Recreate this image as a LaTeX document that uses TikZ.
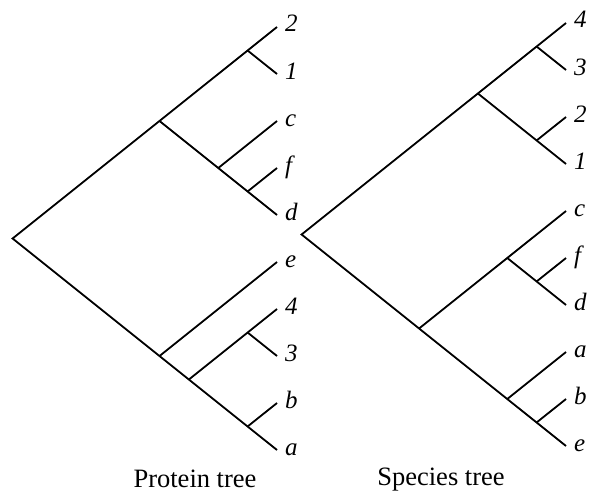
\documentclass[tikz,border=0pt]{standalone}
\usepackage{fontspec}
\setmainfont{Liberation Serif}
\begin{document}
\begin{tikzpicture}[x=1pt,y=-1pt,
  branch/.style={line width=1.8pt},
  leaflabel/.style={anchor=base west,inner sep=0pt,font=\fontsize{25}{28}\selectfont\itshape},
  caption/.style={anchor=base,inner sep=0pt,font=\fontsize{26.5}{30}\selectfont}]
\useasboundingbox (0,0) rectangle (597,495);
% ---------- Protein tree ----------
\coordinate (P2) at (277,27);
\coordinate (P1) at (277,74);
\coordinate (Pc) at (277,121);
\coordinate (Pf) at (277,168);
\coordinate (Pd) at (277,215);
\coordinate (Pe) at (277,262);
\coordinate (P4) at (277,309);
\coordinate (P3) at (277,356);
\coordinate (Pb) at (277,403);
\coordinate (Pa) at (277,450);
\coordinate (Pn21) at (247.6,50.5);
\coordinate (Pnfd) at (247.6,191.5);
\coordinate (Pncfd) at (218.25,168);
\coordinate (PnA) at (159.5,121);
\coordinate (Pn43) at (247.6,332.5);
\coordinate (Pnba) at (247.6,426.5);
\coordinate (Pn43ba) at (188.9,379.5);
\coordinate (PnB) at (159.5,356);
\coordinate (Proot) at (12.6,238.5);
\draw[branch] (P2) -- (Proot) -- (Pa);
\draw[branch] (PnA) -- (Pd);
\draw[branch] (Pn21) -- (P1);
\draw[branch] (Pncfd) -- (Pc);
\draw[branch] (Pnfd) -- (Pf);
\draw[branch] (PnB) -- (Pe);
\draw[branch] (Pn43ba) -- (P4);
\draw[branch] (Pn43) -- (P3);
\draw[branch] (Pnba) -- (Pb);
\foreach \n/\t in {2/2,1/1,c/c,f/f,d/d,e/e,4/4,3/3,b/b,a/a}
  \node[leaflabel] (lP\n) at ([shift={(8,5)}]P\n) {\t};
\node[caption] (capP) at (195,487) {Protein tree};
% ---------- Species tree ----------
\coordinate (S4) at (566,23);
\coordinate (S3) at (566,70);
\coordinate (S2) at (566,117);
\coordinate (S1) at (566,164);
\coordinate (Sc) at (566,211);
\coordinate (Sf) at (566,258);
\coordinate (Sd) at (566,305);
\coordinate (Sa) at (566,352);
\coordinate (Sb) at (566,399);
\coordinate (Se) at (566,446);
\coordinate (Sn43) at (536.6,46.5);
\coordinate (Sn21) at (536.6,140.5);
\coordinate (Sn4321) at (477.9,93.5);
\coordinate (Snfd) at (536.6,281.5);
\coordinate (Sncfd) at (507.25,258);
\coordinate (Snbe) at (536.6,422.5);
\coordinate (Snabe) at (507.25,399);
\coordinate (Snlow) at (419.1,328.5);
\coordinate (Sroot) at (301.6,234.5);
\draw[branch] (S4) -- (Sroot) -- (Se);
\draw[branch] (Sn43) -- (S3);
\draw[branch] (Sn4321) -- (S1);
\draw[branch] (Sn21) -- (S2);
\draw[branch] (Snlow) -- (Sc);
\draw[branch] (Sncfd) -- (Sd);
\draw[branch] (Snfd) -- (Sf);
\draw[branch] (Snabe) -- (Sa);
\draw[branch] (Snbe) -- (Sb);
\foreach \n/\t in {4/4,3/3,2/2,1/1,c/c,f/f,d/d,a/a,b/b,e/e}
  \node[leaflabel] (lS\n) at ([shift={(8,5)}]S\n) {\t};
\node[caption] (capS) at (441,485) {Species tree};
\end{tikzpicture}
\end{document}
